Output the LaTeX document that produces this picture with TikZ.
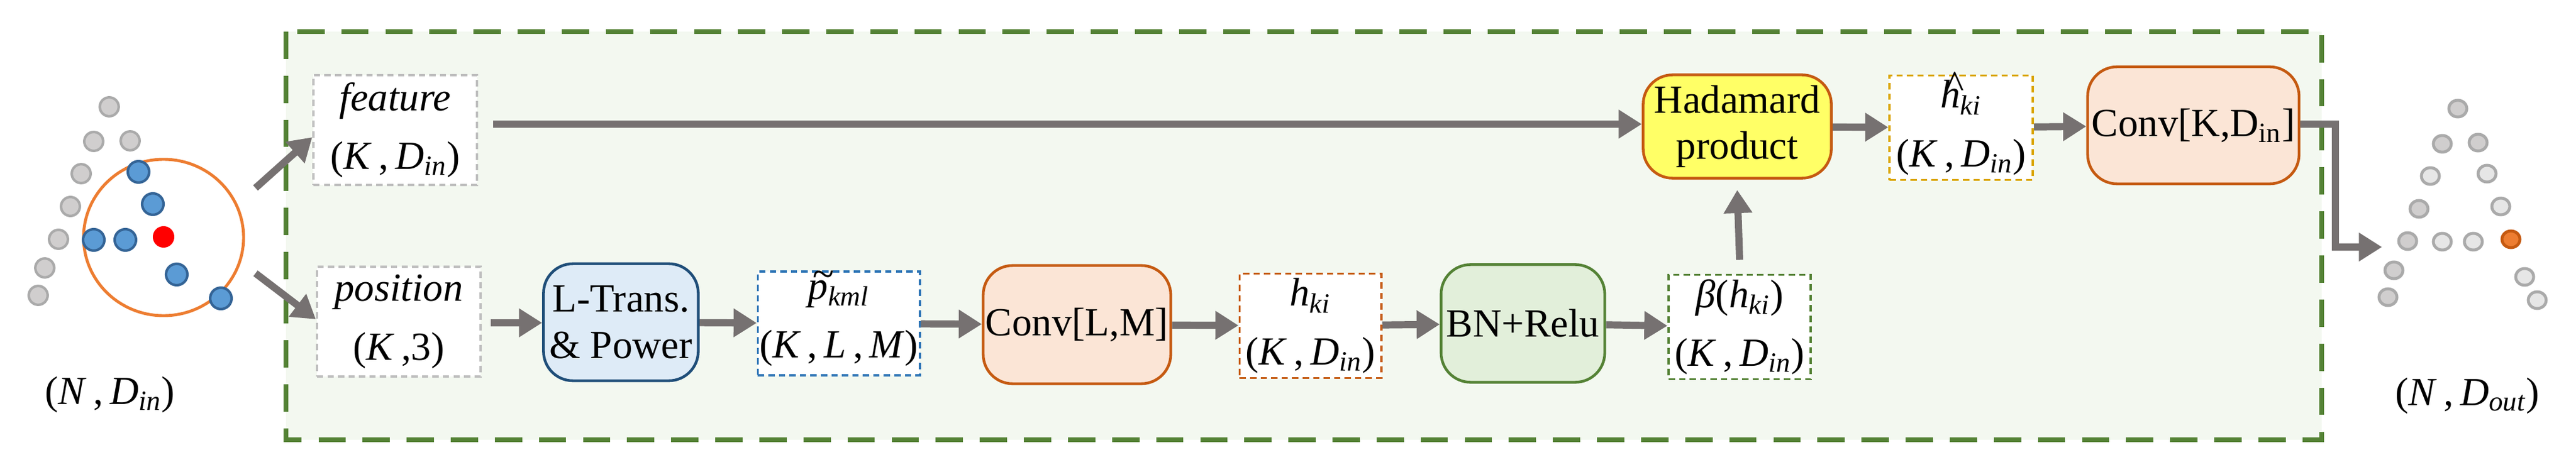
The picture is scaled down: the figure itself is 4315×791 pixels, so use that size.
\documentclass[tikz,border=0pt]{standalone}
\usepackage{fontspec}
\setmainfont{Liberation Serif}
\usetikzlibrary{arrows.meta,shapes.geometric}
\definecolor{arr}{RGB}{118,113,113}
\definecolor{frm}{RGB}{84,130,53}
\definecolor{frmfill}{RGB}{243,248,240}
\definecolor{ltb}{RGB}{222,235,247}
\definecolor{ltbd}{RGB}{31,78,121}
\definecolor{cvf}{RGB}{251,229,214}
\definecolor{cvd}{RGB}{197,90,17}
\definecolor{hdf}{RGB}{255,255,102}
\definecolor{bnf}{RGB}{226,239,218}
\definecolor{gd}{RGB}{191,191,191}
\definecolor{bd}{RGB}{46,117,182}
\definecolor{yd}{RGB}{218,165,0}
\definecolor{bdot}{RGB}{91,155,213}
\definecolor{bdotd}{RGB}{52,100,150}
\definecolor{gdot}{RGB}{208,206,206}
\definecolor{gdotd}{RGB}{170,170,170}
\definecolor{ldot}{RGB}{230,230,230}
\definecolor{odot}{RGB}{237,125,49}
\newcommand{\ii}[1]{\textit{#1}}
\newcommand{\KD}{(\ii{K}\,,\,\ii{D}\textsubscript{\ii{in}})}
\newcommand{\acc}[3]{\ii{\makebox[0pt][l]{\hspace{0.1em}\smash{\raisebox{#3}{#1}}}#2}}
\begin{document}
\begin{tikzpicture}[x=0.01cm,y=-0.01cm,
  every node/.style={font=\fontsize{19}{22}\selectfont, align=center, inner sep=0pt},
  blk/.style={rounded corners=14pt, line width=1.3pt},
  dbox/.style={fill=white, line width=1.1pt, dashed, dash pattern=on 3pt off 2pt},
  ar/.style={draw=arr, line width=3.4pt, -{Triangle[length=11pt,width=13pt]}},
  gp/.style={circle, minimum size=30pt*0.3, fill=gdot, draw=gdotd, line width=1.2pt},
  bp/.style={circle, minimum size=34pt*0.3, fill=bdot, draw=bdotd, line width=1.2pt},
  lp/.style={ellipse, fill=ldot, draw=gdotd, line width=1.4pt},
]
\useasboundingbox (0,0) rectangle (4315,791);
% frame
\draw[frm, fill=frmfill, line width=2.3pt, dash pattern=on 13pt off 8pt] (479,53) rectangle (3889,737);
% boxes
\node[dbox, draw=gd, minimum width=274*0.2845pt, minimum height=184*0.2845pt] (feat) at (662,218) {\ii{feature}\\[6pt]\KD};
\node[dbox, draw=gd, minimum width=274*0.2845pt, minimum height=184*0.2845pt] (pos) at (668,539) {\ii{position}\\[6pt](\ii{K}\,,3)};
\node[blk, draw=ltbd, fill=ltb, minimum width=259*0.2845pt, minimum height=196*0.2845pt] (lt) at (1040,540) {L-Trans.\\\& Power};
\node[dbox, draw=bd, minimum width=271*0.2845pt, minimum height=174*0.2845pt] (pt) at (1405,542) {\acc{\char`\~}{p}{0.3em}\textsubscript{\ii{kml}}\\[6pt](\ii{K}\,,\,\ii{L}\,,\,\ii{M})};
\node[blk, draw=cvd, fill=cvf, minimum width=314*0.2845pt, minimum height=198*0.2845pt] (c1) at (1804,544) {Conv[L,M]};
\node[dbox, draw=cvd, minimum width=237*0.2845pt, minimum height=175*0.2845pt] (hk) at (2195,546) {\ii{h}\textsubscript{\ii{ki}}\\[6pt]\KD};
\node[blk, draw=frm, fill=bnf, minimum width=274*0.2845pt, minimum height=197*0.2845pt] (bn) at (2551,542) {BN+Relu};
\node[dbox, draw=frm, minimum width=238*0.2845pt, minimum height=175*0.2845pt] (be) at (2914,548) {\ii{β}(\ii{h}\textsubscript{\ii{ki}})\\[6pt]\KD};
\node[blk, draw=cvd, fill=hdf, minimum width=315*0.2845pt, minimum height=173*0.2845pt] (hd) at (2910,212) {Hadamard\\product};
\node[dbox, draw=yd, minimum width=240*0.2845pt, minimum height=175*0.2845pt] (hh) at (3285,214) {\acc{\^{}}{h}{0.25em}\textsubscript{\ii{ki}}\\[6pt]\KD};
\node[blk, draw=cvd, fill=cvf, minimum width=354*0.2845pt, minimum height=196*0.2845pt] (c2) at (3674,210) {Conv[K,D\textsubscript{in}]};
% arrows
\draw[ar] (feat.east)++(25,-10) coordinate (fa) -- (hd.west|-fa);
\draw[ar] (pos.east)++(15,2) coordinate (pa) -- (lt.west|-pa);
\draw[ar] (lt) -- (pt);
\draw[ar] (pt) -- (c1);
\draw[ar] (c1) -- (hk);
\draw[ar] (hk) -- (bn);
\draw[ar] (bn) -- (be);
\draw[ar] (be.north)++(0,-23) coordinate (ba) -- ([yshift=-5pt]hd.south);
\draw[ar] (hd) -- (hh);
\draw[ar] (hh) -- (c2);
\coordinate (ob) at (3912,208);
\coordinate (oc) at (3912,414);
\coordinate (od) at (3990,414);
\draw[ar, {Triangle[length=11pt,width=13pt]}-] (od) -- (oc) -- (ob) -- (c2.east|-ob);
% left cloud
\foreach \x/\y in {183/179,157/237,218/236,136/291,118/346,98/401,75/449,64/495}
  \node[gp] at (\x,\y) {};
\draw[odot, line width=1.4pt] (274,398) ellipse (134 and 131);
\foreach \x/\y in {232/288,256/342,157/402,210/402,296/460,370/500}
  \node[bp] at (\x,\y) {};
\node[circle, fill=red, minimum size=36*0.2845pt] (red) at (274,397) {};
\coordinate (la) at (428,315); \coordinate (lb) at (428,458);
\draw[ar] (la) -- (feat.west|-230,230) ;
\draw[ar] (lb) -- (pos.west|-535,535);
\node (nin) at (184,661) {(\ii{N}\,,\,\ii{D}\textsubscript{\ii{in}})};
% right cloud
\foreach \x/\y in {4117/182,4091/241,4151/239,4052/350,4033/404,4010/453,4000/498}
  \node[lp, fill=gdot, minimum width=30*0.2845pt, minimum height=28*0.2845pt] at (\x,\y) {};
\foreach \x/\y in {4071/295,4166/291,4189/346,4091/405,4143/405,4229/464,4250/503}
  \node[lp, minimum width=30*0.2845pt, minimum height=28*0.2845pt] at (\x,\y) {};
\node[lp, fill=odot, draw=cvd, minimum width=30*0.2845pt, minimum height=28*0.2845pt] at (4206,401) {};
\node (nout) at (4133,663) {(\ii{N}\,,\,\ii{D}\textsubscript{\ii{out}})};
\end{tikzpicture}
\end{document}
